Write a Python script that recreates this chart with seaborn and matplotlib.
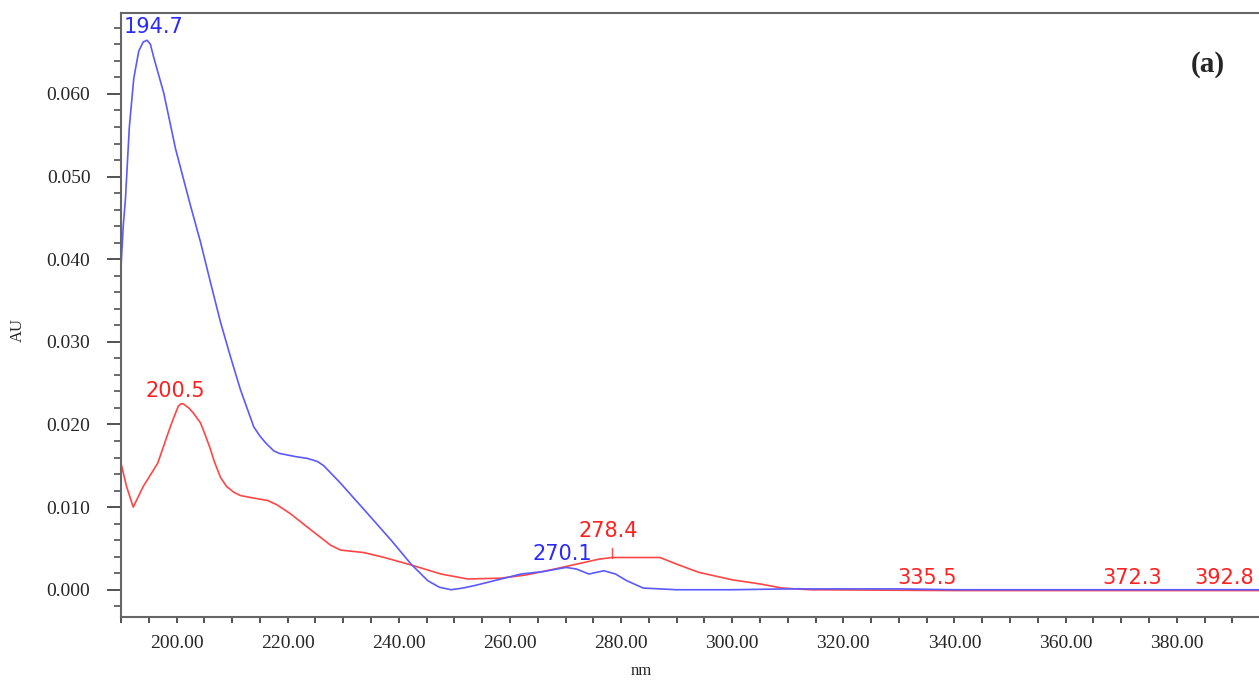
import numpy as np
import pandas as pd
import matplotlib
matplotlib.use("Agg")
import matplotlib.pyplot as plt
from matplotlib.ticker import MultipleLocator, FormatStrFormatter
import seaborn as sns

# Spectrum (a): wavelength (nm) vs absorbance (AU)
blue_nm = [190.0, 190.4, 190.8, 191.5, 192.3, 193.2, 194.0, 194.7, 195.3, 195.9,
           197.7, 199.8, 202.5, 204.3, 206.1, 207.9, 209.7, 211.5, 213.9, 215.0,
           216.0, 217.5, 218.5, 220.0, 221.5, 223.5, 224.5, 225.4, 226.5, 227.5,
           229.5, 234.4, 238.6, 242.2, 245.2, 247.3, 249.4, 251.5, 253.6, 258.4,
           262.0, 266.0, 270.1, 272.0, 274.2, 276.9, 279.0, 281.0, 284.0, 290.0,
           300.0, 310.0, 320.0, 330.0, 340.0, 360.0, 380.0, 395.0]
blue_au = [0.0390, 0.0440, 0.0473, 0.0560, 0.0619, 0.0652, 0.0663, 0.0665, 0.0660, 0.0644,
           0.0601, 0.0534, 0.0465, 0.0421, 0.0372, 0.0324, 0.0282, 0.0242, 0.0197, 0.0186,
           0.0178, 0.0168, 0.0165, 0.0163, 0.0161, 0.0159, 0.0157, 0.0155, 0.0150, 0.0143,
           0.0129, 0.0092, 0.0060, 0.0031, 0.0011, 0.0003, 0.0000, 0.0002, 0.0005, 0.0013,
           0.0019, 0.0022, 0.0027, 0.0025, 0.0019, 0.0023, 0.0019, 0.0011, 0.0002, 0.0000,
           0.0000, 0.0001, 0.0001, 0.0001, 0.0000, 0.0000, 0.0000, 0.0000]

red_nm = [190.0, 191.0, 192.2, 194.0, 196.6, 198.5, 199.3, 200.3, 200.8, 201.2,
          202.2, 203.0, 204.3, 205.0, 206.0, 206.8, 207.9, 209.0, 210.3, 211.5,
          213.0, 216.4, 218.0, 220.5, 223.5, 227.7, 229.5, 233.7, 237.4, 242.2,
          247.6, 252.4, 258.4, 263.0, 268.0, 272.0, 276.0, 278.4, 283.0, 287.0,
          290.0, 294.0, 300.0, 305.0, 309.0, 314.0, 340.0, 370.0, 395.0]
red_au = [0.0153, 0.0125, 0.0100, 0.0125, 0.0153, 0.0190, 0.0205, 0.0222, 0.0225, 0.0225,
          0.0220, 0.0214, 0.0202, 0.0190, 0.0172, 0.0155, 0.0136, 0.0125, 0.0118, 0.0114,
          0.0112, 0.0108, 0.0103, 0.0092, 0.0076, 0.0054, 0.0048, 0.0045, 0.0039, 0.0030,
          0.0019, 0.0013, 0.0014, 0.0018, 0.0025, 0.0031, 0.0037, 0.0039, 0.0039, 0.0039,
          0.0031, 0.0021, 0.0012, 0.0007, 0.0002, 0.0000, -0.0001, -0.0001, -0.0001]

# Peak labels (text, x position, y position)
blue_labels = ["194.7", "270.1"]
blue_label_x = [190.4, 264.0]
blue_label_y = [0.0681, 0.0043]
red_labels = ["200.5", "278.4", "335.5", "372.3", "392.8"]
red_label_x = [194.4, 272.4, 329.7, 366.7, 383.2]
red_label_y = [0.0240, 0.0071, 0.0014, 0.0014, 0.0014]

blue_df = pd.DataFrame({"nm": blue_nm, "AU": blue_au})
red_df = pd.DataFrame({"nm": red_nm, "AU": red_au})

sns.set_style("ticks")
plt.rcParams["font.family"] = ["Liberation Serif", "DejaVu Serif"]

fig = plt.figure(figsize=(12.59, 6.80), dpi=100)
ax = fig.add_axes([121 / 1259, 1 - 617 / 680, 1 - 121 / 1259, 604 / 680])

sns.lineplot(data=red_df, x="nm", y="AU", color="#ff4646", linewidth=1.2, sort=False, ax=ax)
sns.lineplot(data=blue_df, x="nm", y="AU", color="#5a5aff", linewidth=1.2, sort=False, ax=ax)

for t, x, y in zip(blue_labels, blue_label_x, blue_label_y):
    ax.text(x, y, t, color="#2a2aff", fontsize=15, family="DejaVu Sans",
            ha="left", va="center")
for t, x, y in zip(red_labels, red_label_x, red_label_y):
    ax.text(x, y, t, color="#ff2020", fontsize=15, family="DejaVu Sans",
            ha="left", va="center", clip_on=False)

# small peak marker on the red curve
ax.plot([278.4, 278.4], [0.0039, 0.0051], color="#ff4646", linewidth=1.0)

ax.text(0.955, 0.915, "(a)", transform=ax.transAxes, fontsize=21,
        fontweight="bold", ha="center", va="center")

ax.set_xlim(190, 394.8)
ax.set_ylim(-0.0033, 0.0698)
ax.xaxis.set_major_locator(MultipleLocator(20))
ax.xaxis.set_minor_locator(MultipleLocator(5))
ax.yaxis.set_major_locator(MultipleLocator(0.010))
ax.yaxis.set_minor_locator(MultipleLocator(0.002))
ax.xaxis.set_major_formatter(FormatStrFormatter("%.2f"))
ax.yaxis.set_major_formatter(FormatStrFormatter("%.3f"))

ax.tick_params(axis="y", which="major", length=10, width=1.3, color="#444444",
               labelsize=14, pad=12)
ax.tick_params(axis="y", which="minor", length=5, width=1.1, color="#444444")
ax.tick_params(axis="x", which="both", length=4, width=1.3, color="#444444",
               labelsize=14, pad=9)

for side in ["top", "left", "bottom"]:
    ax.spines[side].set_color("#666666")
    ax.spines[side].set_linewidth(1.5)
ax.spines["right"].set_visible(False)

ax.set_xlabel("nm", fontsize=12, va="center")
ax.set_ylabel("AU", fontsize=12, va="center")
ax.xaxis.set_label_coords(0.457, -0.089)
ax.yaxis.set_label_coords(-0.0905, 0.475)

fig.savefig("out.png", dpi=100)
